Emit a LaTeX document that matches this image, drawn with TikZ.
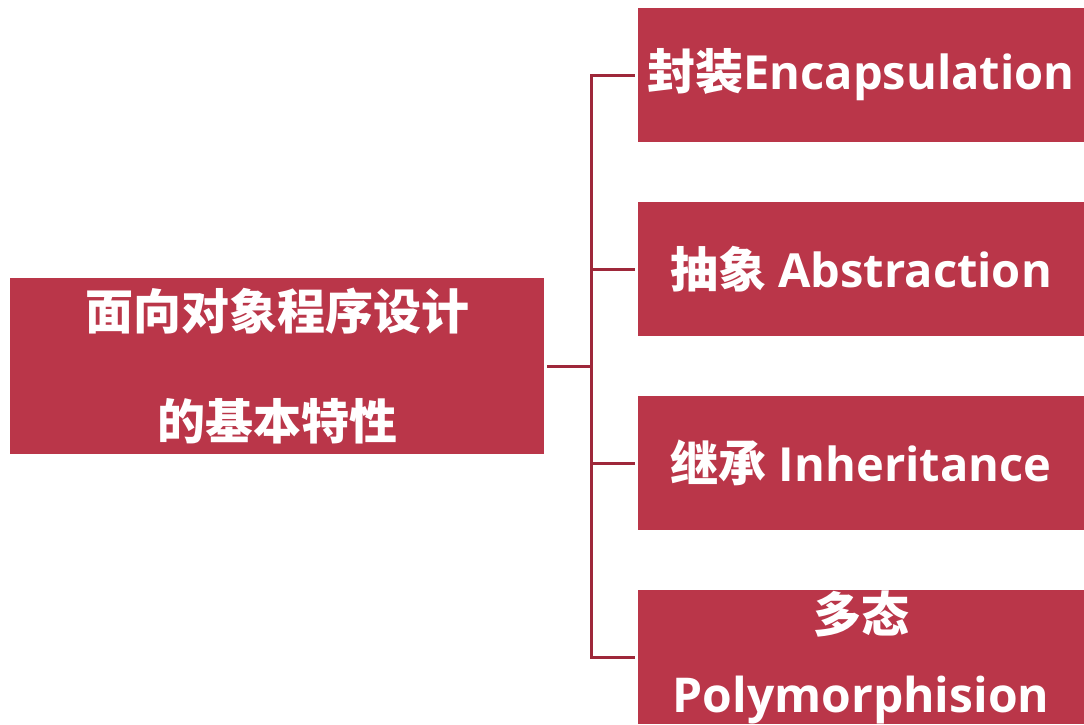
\documentclass[tikz,border=0pt]{standalone}
\usepackage{fontspec}
\newfontfamily\cjk{Noto Sans CJK SC}
\newfontfamily\lat{Open Sans}
\definecolor{boxred}{RGB}{186,54,73}
\definecolor{linered}{RGB}{158,40,58}
\begin{document}
\begin{tikzpicture}[x=1pt,y=-1pt,
  box/.style={fill=boxred,draw=none,text=white,inner sep=0pt,align=center,font=\bfseries},
  leaf/.style={box,minimum width=446pt,minimum height=134pt},
  link/.style={draw=linered,line width=3pt}]
\useasboundingbox (0,0) rectangle (1084,724);
\node[box,minimum width=534pt,minimum height=176pt,
  font=\bfseries\cjk\fontsize{48}{110}\selectfont] (root) at (277,366)
  {面向对象程序设计\\的基本特性};
\node[leaf] (b1) at (861,75) {{\cjk\fontsize{48}{56}\selectfont 封装}{\lat\fontsize{47}{56}\selectfont Encapsulation}};
\node[leaf] (b2) at (861,269) {{\cjk\fontsize{48}{56}\selectfont 抽象}{\lat\fontsize{47}{56}\selectfont\ Abstraction}};
\node[leaf] (b3) at (861,463) {{\cjk\fontsize{48}{56}\selectfont 继承}{\lat\fontsize{47}{56}\selectfont\ Inheritance}};
\node[leaf,font=\bfseries\fontsize{48}{80}\selectfont] (b4) at (861,657) {{\cjk 多态}\\{\lat\fontsize{48}{80}\selectfont Polymorphision}};
\coordinate (hub) at (591,366);
\draw[link,shorten <=3pt] (root.east |- hub) -- (hub);
\draw[link,shorten >=3pt] (hub) |- (b1.west);
\draw[link,shorten >=3pt] (hub) |- (b2.west);
\draw[link,shorten >=3pt] (hub) |- (b3.west);
\draw[link,shorten >=3pt] (hub) |- (b4.west);
\end{tikzpicture}
\end{document}
